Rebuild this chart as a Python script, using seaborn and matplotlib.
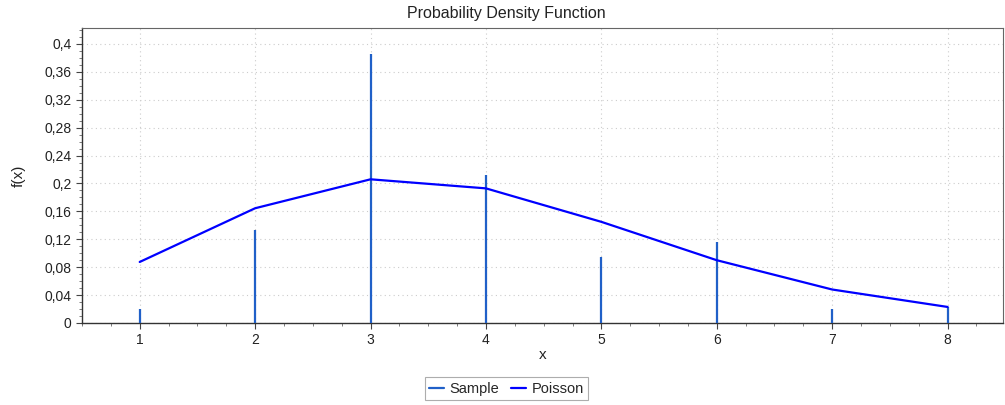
import matplotlib
matplotlib.use("Agg")
import matplotlib.pyplot as plt
import seaborn as sns
import pandas as pd
from matplotlib.ticker import MultipleLocator, FuncFormatter
from matplotlib.lines import Line2D

x_values = [1, 2, 3, 4, 5, 6, 7, 8]
sample_values = [0.020, 0.134, 0.386, 0.212, 0.095, 0.116, 0.020, 0.023]
poisson_values = [0.0875, 0.1645, 0.2060, 0.1930, 0.1450, 0.0900, 0.0480, 0.0230]

sns.set_style("white")
plt.rcParams['font.family'] = ['Liberation Sans', 'DejaVu Sans']

fig = plt.figure(figsize=(10.05, 4.05), dpi=100)
ax = fig.add_axes([0.0816, 0.2025, 0.9164, 0.7285])

df = pd.DataFrame({"x": x_values, "Sample": sample_values, "Poisson": poisson_values})

sample_color = "#2060C8"
poisson_color = "#0000FF"

ax.vlines(df["x"], 0, df["Sample"], color=sample_color, linewidth=1.6, zorder=3)
sns.lineplot(data=df, x="x", y="Poisson", ax=ax, color=poisson_color, linewidth=1.6,
             zorder=4, legend=False)

ax.set_xlim(0.5, 8.48)
ax.set_ylim(0, 0.423)
ax.xaxis.set_major_locator(MultipleLocator(1))
ax.xaxis.set_minor_locator(MultipleLocator(0.25))
ax.yaxis.set_major_locator(MultipleLocator(0.04))
ax.yaxis.set_minor_locator(MultipleLocator(0.01))

def yfmt(v, pos):
    s = f"{v:.2f}".rstrip("0").rstrip(".")
    if abs(v) < 1e-9:
        s = "0"
    return s.replace(".", ",")

ax.yaxis.set_major_formatter(FuncFormatter(yfmt))
ax.xaxis.set_major_formatter(FuncFormatter(lambda v, p: f"{int(round(v))}"))

ax.tick_params(axis="both", which="major", direction="out", length=4, width=0.8,
               colors="#444444", labelsize=10, labelcolor="#222222", bottom=True, left=True)
ax.tick_params(axis="both", which="minor", direction="out", length=2, width=0.6,
               colors="#666666", bottom=True, left=True)

ax.grid(True, which="major", linestyle=(0, (1, 3)), color="#cccccc", linewidth=0.8)
for side in ["left", "bottom"]:
    ax.spines[side].set_color("#333333")
    ax.spines[side].set_linewidth(1.0)
for side in ["top", "right"]:
    ax.spines[side].set_color("#666666")
    ax.spines[side].set_linewidth(0.8)

ax.set_xlabel("x", fontsize=11, color="#222222")
ax.set_ylabel("f(x)", fontsize=11, color="#222222")
ax.xaxis.set_label_coords(0.5, -0.085, transform=ax.transAxes)
ax.yaxis.set_label_coords(-0.069, 0.5, transform=ax.transAxes)
ax.xaxis.label.set_verticalalignment("top")
ax.yaxis.label.set_verticalalignment("center")
fig.text(0.504, 0.967, "Probability Density Function", fontsize=11.5, color="#222222",
         ha="center", va="center")

handles = [Line2D([0], [0], color=sample_color, linewidth=1.6),
           Line2D([0], [0], color=poisson_color, linewidth=1.6)]
leg = fig.legend(handles, ["Sample", "Poisson"], loc="lower center",
                 bbox_to_anchor=(0.504, -0.006), ncol=2, frameon=True, fancybox=False,
                 fontsize=10.5, handlelength=1.0, handletextpad=0.4, columnspacing=0.8,
                 borderpad=0.3)
leg.get_frame().set_edgecolor("#999999")
leg.get_frame().set_linewidth(0.8)

fig.savefig("out.png", dpi=100)
